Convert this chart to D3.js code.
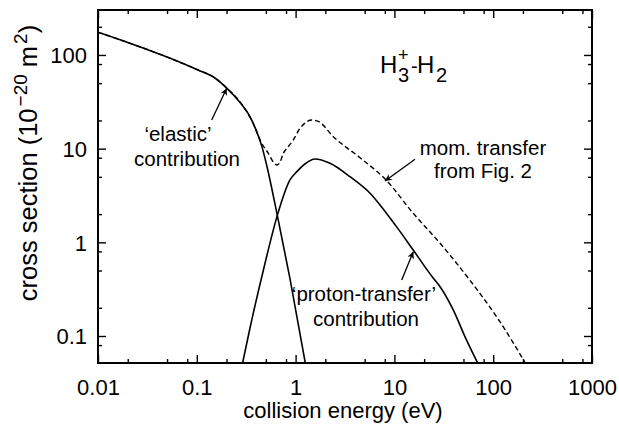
<!DOCTYPE html>
<html>
<head>
<meta charset="utf-8">
<script src="https://cdn.jsdelivr.net/npm/d3@7"></script>
<style>
  html, body { margin: 0; padding: 0; background: #fff; }
  svg { display: block; font-family: "Liberation Sans", Arial, Helvetica, sans-serif; }
</style>
</head>
<body>
<svg id="chart" width="619" height="426"></svg>
<script>
// Collision energy (eV) and cross sections (10^-20 m^2)
const elasticE = [0.01, 0.02, 0.05, 0.1, 0.15, 0.2, 0.274, 0.345, 0.404, 0.454, 0.509, 0.653, 0.877, 1.26];
const elasticS = [175, 136, 95, 70, 57.5, 44.5, 31, 22, 15.2, 10.7, 6.7, 1.94, 0.41, 0.05];

const protonE = [0.289, 0.345, 0.471, 0.653, 0.877, 1.03, 1.25, 1.57, 2.23, 3.55, 5.67, 7.15, 10.5, 15.5, 24.8, 29, 39.4, 51.9, 70.6];
const protonS = [0.05, 0.121, 0.5, 1.94, 4.64, 5.68, 6.9, 7.76, 6.98, 5.02, 3.34, 2.51, 1.47, 0.828, 0.413, 0.336, 0.19, 0.098, 0.05];

const momE = [0.01, 0.02, 0.05, 0.1, 0.15, 0.2, 0.274, 0.37, 0.45, 0.53, 0.6, 0.644, 0.7, 0.751, 0.843, 0.948, 1.11, 1.25, 1.456, 1.7, 2.41, 4.49, 8.04, 15.5, 29, 56.1, 113, 215];
const momS = [175, 136, 95, 70, 57.5, 44.5, 31.5, 18.8, 11.6, 8.9, 7.1, 6.7, 7.3, 8.9, 10.5, 12.4, 16.5, 18.8, 20.2, 19.5, 13.4, 8.0, 4.75, 2.04, 0.977, 0.413, 0.15, 0.05];

const xTickValues = [0.01, 0.1, 1, 10, 100, 1000];
const xTickLabels = ["0.01", "0.1", "1", "10", "100", "1000"];
const yTickValues = [0.1, 1, 10, 100];
const yTickLabels = ["0.1", "1", "10", "100"];
const minorSteps = [2, 5, 8];

const svg = d3.select("#chart");
const plotL = 98, plotR = 592, plotT = 10, plotB = 363;

const x = d3.scaleLog().domain([0.01, 1000]).range([plotL, plotR]);
const y = d3.scaleLog().domain([0.0515, 302]).range([plotB, plotT]);

// minor tick positions inside each domain
function minorTicks(scale) {
  const [a, b] = scale.domain();
  const out = [];
  for (let e = Math.floor(Math.log10(a)); e <= Math.ceil(Math.log10(b)); e++) {
    for (const m of minorSteps) {
      const v = m * Math.pow(10, e);
      if (v > a * 1.0001 && v < b * 0.9999) out.push(v);
    }
  }
  return out;
}

const defs = svg.append("defs");
defs.append("clipPath").attr("id", "plotClip")
  .append("rect").attr("x", plotL).attr("y", plotT).attr("width", plotR - plotL).attr("height", plotB - plotT);
defs.append("marker").attr("id", "arrowHead")
  .attr("viewBox", "0 0 10 10").attr("refX", 10).attr("refY", 5)
  .attr("markerWidth", 9).attr("markerHeight", 7).attr("markerUnits", "userSpaceOnUse")
  .attr("orient", "auto")
  .append("path").attr("d", "M0,0 L10,5 L0,10 L3,5 Z").attr("fill", "#000");

// Axes: bottom/left with labels, top/right mirrored ticks only
const majorLen = 8, minorLen = 4;
const axBottom = d3.axisBottom(x).tickValues(xTickValues).tickFormat((d, i) => xTickLabels[i]).tickSize(-majorLen);
const axTop = d3.axisTop(x).tickValues(xTickValues).tickFormat("").tickSize(-majorLen);
const axLeft = d3.axisLeft(y).tickValues(yTickValues).tickFormat((d, i) => yTickLabels[i]).tickSize(-majorLen);
const axRight = d3.axisRight(y).tickValues(yTickValues).tickFormat("").tickSize(-majorLen);

const gB = svg.append("g").attr("transform", `translate(0,${plotB})`).call(axBottom);
svg.append("g").attr("transform", `translate(0,${plotT})`).call(axTop);
const gL = svg.append("g").attr("transform", `translate(${plotL},0)`).call(axLeft);
svg.append("g").attr("transform", `translate(${plotR},0)`).call(axRight);

svg.append("g").attr("transform", `translate(0,${plotB})`)
  .call(d3.axisBottom(x).tickValues(minorTicks(x)).tickFormat("").tickSize(-minorLen));
svg.append("g").attr("transform", `translate(0,${plotT})`)
  .call(d3.axisTop(x).tickValues(minorTicks(x)).tickFormat("").tickSize(-minorLen));
svg.append("g").attr("transform", `translate(${plotL},0)`)
  .call(d3.axisLeft(y).tickValues(minorTicks(y)).tickFormat("").tickSize(-minorLen));
svg.append("g").attr("transform", `translate(${plotR},0)`)
  .call(d3.axisRight(y).tickValues(minorTicks(y)).tickFormat("").tickSize(-minorLen));

svg.selectAll(".domain").remove();
svg.selectAll(".tick line").attr("stroke", "#000").attr("stroke-width", 1.4);
svg.selectAll(".tick text").attr("fill", "#000").attr("font-size", 22)
  .attr("font-family", "'Liberation Sans', Arial, sans-serif");
gB.selectAll(".tick text").attr("dy", null).attr("y", 32);
gL.selectAll(".tick text").attr("x", -11).attr("dy", "0.36em");

// frame
svg.append("rect").attr("x", plotL).attr("y", plotT).attr("width", plotR - plotL).attr("height", plotB - plotT)
  .attr("fill", "none").attr("stroke", "#000").attr("stroke-width", 2);

// curves
const line = d3.line().x(d => x(d[0])).y(d => y(d[1])).curve(d3.curveMonotoneX);
const plot = svg.append("g").attr("clip-path", "url(#plotClip)");
plot.append("path").datum(d3.zip(elasticE, elasticS)).attr("d", line)
  .attr("fill", "none").attr("stroke", "#000").attr("stroke-width", 1.6);
plot.append("path").datum(d3.zip(protonE, protonS)).attr("d", line)
  .attr("fill", "none").attr("stroke", "#000").attr("stroke-width", 1.6);
plot.append("path").datum(d3.zip(momE, momS)).attr("d", line)
  .attr("fill", "none").attr("stroke", "#000").attr("stroke-width", 1.4).attr("stroke-dasharray", "5,3");

// axis titles
svg.append("text").attr("x", 343).attr("y", 418).attr("text-anchor", "middle")
  .attr("font-size", 22).text("collision energy (eV)");

const yt = svg.append("text").attr("transform", "translate(37,163) rotate(-90)")
  .attr("text-anchor", "middle").attr("font-size", 25.5);
yt.append("tspan").text("cross section (10");
yt.append("tspan").attr("font-size", 19).attr("dx", 2).attr("dy", -10).text("\u221220");
yt.append("tspan").attr("dy", 10).text(" m");
yt.append("tspan").attr("font-size", 19).attr("dx", 2).attr("dy", -10).text("2");
yt.append("tspan").attr("dy", 10).text(")");

// system label H3+ - H2
const t = svg.append("text").attr("y", 73).attr("font-size", 24);
t.append("tspan").attr("x", 380).text("H");
t.append("tspan").attr("x", 398).attr("y", 82).attr("font-size", 20).text("3");
t.append("tspan").attr("x", 398).attr("y", 61).attr("font-size", 18).text("+");
t.append("tspan").attr("x", 411).attr("y", 73).attr("font-size", 20).text("-");
t.append("tspan").attr("x", 417).attr("y", 73).text("H");
t.append("tspan").attr("x", 436).attr("y", 82).attr("font-size", 20).text("2");

// annotations
const ann = svg.append("g").attr("font-size", 20.5).attr("text-anchor", "middle");
ann.append("text").attr("x", 178).attr("y", 141).text("\u2018elastic\u2019");
ann.append("text").attr("x", 187).attr("y", 166).text("contribution");
ann.append("text").attr("x", 483).attr("y", 155).text("mom. transfer");
ann.append("text").attr("x", 483).attr("y", 178).text("from Fig. 2");
ann.append("text").attr("x", 364).attr("y", 301).text("\u2018proton-transfer\u2019");
ann.append("text").attr("x", 366).attr("y", 326).text("contribution");

const arrows = [
  [[211.7, 120], [226.7, 88.3]],
  [[415, 159.3], [385, 181]],
  [[401.7, 280], [413.3, 251.7]]
];
svg.append("g").selectAll("line").data(arrows).join("line")
  .attr("x1", d => d[0][0]).attr("y1", d => d[0][1])
  .attr("x2", d => d[1][0]).attr("y2", d => d[1][1])
  .attr("stroke", "#000").attr("stroke-width", 1.3).attr("marker-end", "url(#arrowHead)");
</script>
</body>
</html>
